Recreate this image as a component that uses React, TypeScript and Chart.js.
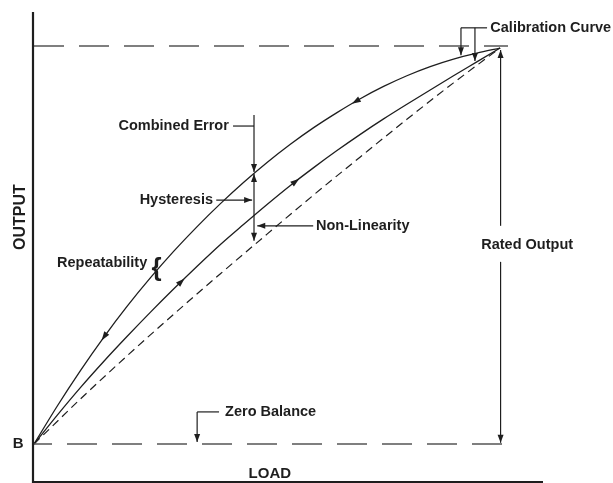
import React, { useEffect, useRef } from "react";
import { Chart, registerables } from "chart.js";

Chart.register(...registerables);

// Load (% of rated load) and output (% of rated output)
const LOAD = [0, 5, 10, 15, 20, 25, 30, 35, 40, 45, 50, 55, 60, 65, 70, 75, 80, 85, 90, 95, 100];
// descending (unloading) calibration curve
const UNLOADING = [0, 9.6, 18.6, 27.0, 34.8, 42.0, 48.7, 54.9, 60.7, 66.1, 71.1, 75.7, 79.9, 83.7, 87.2, 90.3, 93.0, 95.3, 97.2, 98.7, 100];
// ascending (loading) calibration curve
const LOADING = [0, 7.3, 14.3, 20.9, 27.2, 33.3, 39.2, 44.9, 50.4, 55.5, 60.5, 65.3, 69.8, 74.1, 78.2, 82.1, 85.8, 89.4, 93.0, 96.5, 100];
// reference (best-fit) line
const REF_LOAD = [0, 10, 20, 30, 40, 50, 60, 70, 80, 90, 100];
const REF_OUTPUT = [0, 11.4, 22.3, 32.8, 43.0, 53.0, 62.9, 72.5, 82.0, 91.2, 100];

const RATED_LINE = 100.5;
const ZERO_LINE = 0;
const LINE_END = 101.7;

const X_RANGE = [0, 109.2];
const Y_RANGE = [-9.6, 109.1];

// arrow marks on the curves (load values)
const UNLOADING_ARROWS = [68.7, 15.0];
const LOADING_ARROWS = [31.8, 56.4];

const INK = "#1e1e1e";
const FONT = '"Liberation Sans", Arial, sans-serif';

function interp(xs: number[], ys: number[], x: number) {
  for (let i = 0; i < xs.length - 1; i++) {
    if (x >= xs[i] && x <= xs[i + 1]) {
      const t = (x - xs[i]) / (xs[i + 1] - xs[i]);
      return ys[i] + t * (ys[i + 1] - ys[i]);
    }
  }
  return ys[ys.length - 1];
}

function head(ctx: CanvasRenderingContext2D, x: number, y: number, dx: number, dy: number, len = 8, hw = 3) {
  const l = Math.hypot(dx, dy) || 1;
  const ux = dx / l, uy = dy / l;
  const bx = x - ux * len, by = y - uy * len;
  ctx.beginPath();
  ctx.moveTo(x, y);
  ctx.lineTo(bx - uy * hw, by + ux * hw);
  ctx.lineTo(bx + uy * hw, by - ux * hw);
  ctx.closePath();
  ctx.fill();
}

function seg(ctx: CanvasRenderingContext2D, x1: number, y1: number, x2: number, y2: number) {
  ctx.beginPath();
  ctx.moveTo(x1, y1);
  ctx.lineTo(x2, y2);
  ctx.stroke();
}

const annotations = {
  id: "annotations",
  afterDraw(chart: any) {
    const ctx: CanvasRenderingContext2D = chart.ctx;
    const xs = chart.scales.x, ys = chart.scales.y;
    const X = (v: number) => xs.getPixelForValue(v);
    const Y = (v: number) => ys.getPixelForValue(v);
    const area = chart.chartArea;
    ctx.save();
    ctx.strokeStyle = INK;
    ctx.fillStyle = INK;

    // axes
    ctx.lineWidth = 2.2;
    seg(ctx, area.left - 1, area.top, area.left - 1, area.bottom + 1);
    seg(ctx, area.left - 2, area.bottom, area.right, area.bottom);

    ctx.lineWidth = 1.2;
    // curve arrows
    for (const a of UNLOADING_ARROWS) {
      const px = X(a), py = Y(interp(LOAD, UNLOADING, a));
      const qx = X(a - 1), qy = Y(interp(LOAD, UNLOADING, a - 1));
      head(ctx, px + (qx - px) * 0.5, py + (qy - py) * 0.5, qx - px, qy - py, 9, 3);
    }
    for (const a of LOADING_ARROWS) {
      const px = X(a), py = Y(interp(LOAD, LOADING, a));
      const qx = X(a + 1), qy = Y(interp(LOAD, LOADING, a + 1));
      head(ctx, px + (qx - px) * 0.5, py + (qy - py) * 0.5, qx - px, qy - py, 9, 3);
    }

    // Calibration Curve
    seg(ctx, X(91.6), Y(105.1), X(97.2), Y(105.1));
    seg(ctx, X(91.6), Y(105.1), X(91.6), Y(98.2));
    head(ctx, X(91.6), Y(98.2), 0, 1);
    seg(ctx, X(94.6), Y(105.1), X(94.6), Y(96.7));
    head(ctx, X(94.6), Y(96.7), 0, 1);

    // Rated Output
    seg(ctx, X(100.1), Y(99.5), X(100.1), Y(55.1));
    head(ctx, X(100.1), Y(99.5), 0, -1);
    seg(ctx, X(100.1), Y(46.0), X(100.1), Y(0.3));
    head(ctx, X(100.1), Y(0.3), 0, 1);

    // Combined Error
    seg(ctx, X(42.7), Y(80.3), X(47.2), Y(80.3));
    seg(ctx, X(47.2), Y(83.1), X(47.2), Y(68.7));
    head(ctx, X(47.2), Y(68.7), 0, 1);
    seg(ctx, X(47.2), Y(68.2), X(47.2), Y(51.3));
    head(ctx, X(47.2), Y(68.2), 0, -1);
    head(ctx, X(47.2), Y(51.3), 0, 1);

    // Hysteresis
    seg(ctx, X(39.1), Y(61.6), X(46.8), Y(61.6));
    head(ctx, X(46.8), Y(61.6), 1, 0);

    // Non-Linearity
    seg(ctx, X(59.9), Y(55.1), X(47.9), Y(55.1));
    head(ctx, X(47.9), Y(55.1), -1, 0);

    // Zero Balance
    seg(ctx, X(39.7), Y(8.1), X(35.0), Y(8.1));
    seg(ctx, X(35.0), Y(8.1), X(35.0), Y(0.5));
    head(ctx, X(35.0), Y(0.5), 0, 1);

    // text
    ctx.textBaseline = "middle";
    ctx.font = `bold 14.5px ${FONT}`;
    ctx.textAlign = "left";
    ctx.fillText("Calibration Curve", X(97.9), Y(105.1));
    ctx.fillText("Non-Linearity", X(60.5), Y(55.1));
    ctx.fillText("Zero Balance", X(41.0), Y(8.1));
    ctx.textAlign = "right";
    ctx.fillText("Combined Error", X(41.8), Y(80.3));
    ctx.fillText("Hysteresis", X(38.4), Y(61.6));
    ctx.fillText("Repeatability", X(24.3), Y(45.7));
    ctx.textAlign = "center";
    ctx.fillText("Rated Output", X(105.8), Y(50.3));
    ctx.font = `bold 26px ${FONT}`;
    ctx.fillText("{", X(26.3), Y(44.3));
    ctx.font = `bold 15px ${FONT}`;
    ctx.fillText("LOAD", X(50.6), Y(-7.6));
    ctx.fillText("B", X(-3.4), Y(0));
    ctx.save();
    ctx.translate(X(-2.8), Y(57.3));
    ctx.rotate(-Math.PI / 2);
    ctx.font = `bold 16px ${FONT}`;
    ctx.fillText("OUTPUT", 0, 0);
    ctx.restore();

    ctx.restore();
  },
};

export default function App() {
  const ref = useRef<HTMLCanvasElement | null>(null);
  useEffect(() => {
    document.body.style.margin = "0";
    const toPts = (xs: number[], ys: number[]) => xs.map((x, i) => ({ x, y: ys[i] }));
    const chart = new Chart(ref.current as HTMLCanvasElement, {
      type: "scatter",
      data: {
        datasets: [
          {
            data: [{ x: 0, y: RATED_LINE }, { x: LINE_END, y: RATED_LINE }],
            showLine: true, borderColor: "#555", borderWidth: 1.6, borderDash: [30, 15], pointRadius: 0,
          },
          {
            data: [{ x: 0, y: ZERO_LINE }, { x: LINE_END, y: ZERO_LINE }],
            showLine: true, borderColor: "#555", borderWidth: 1.6, borderDash: [30, 15], borderDashOffset: 12, pointRadius: 0,
          },
          {
            data: toPts(REF_LOAD, REF_OUTPUT),
            showLine: true, borderColor: INK, borderWidth: 1.2, borderDash: [8, 5], pointRadius: 0,
            cubicInterpolationMode: "monotone",
          },
          {
            data: toPts(LOAD, UNLOADING),
            showLine: true, borderColor: INK, borderWidth: 1.3, pointRadius: 0,
            cubicInterpolationMode: "monotone",
          },
          {
            data: toPts(LOAD, LOADING),
            showLine: true, borderColor: INK, borderWidth: 1.3, pointRadius: 0,
            cubicInterpolationMode: "monotone",
          },
        ],
      },
      options: {
        animation: false,
        responsive: false,
        layout: { padding: { left: 34, right: 70, top: 12, bottom: 1 } },
        plugins: { legend: { display: false }, tooltip: { enabled: false } },
        scales: {
          x: { type: "linear", min: X_RANGE[0], max: X_RANGE[1], display: false },
          y: { type: "linear", min: Y_RANGE[0], max: Y_RANGE[1], display: false },
        },
      },
      plugins: [annotations],
    });
    return () => chart.destroy();
  }, []);
  return (
    <div style={{ position: "absolute", left: 0, top: 0, width: 613, height: 483, background: "#fff" }}>
      <canvas ref={ref} width={613} height={483} />
    </div>
  );
}
